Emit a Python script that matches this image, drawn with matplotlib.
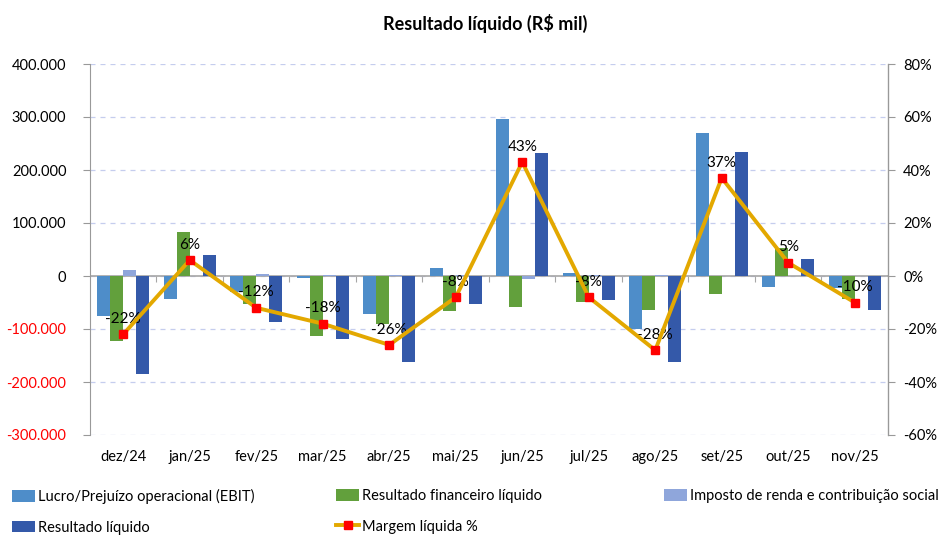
import matplotlib.pyplot as plt
import matplotlib.ticker as mticker
import numpy as np

meses = ["dez/24", "jan/25", "fev/25", "mar/25", "abr/25", "mai/25",
         "jun/25", "jul/25", "ago/25", "set/25", "out/25", "nov/25"]
ebit = [-76000, -44000, -30000, -4000, -72000, 14500,
        296000, 6000, -100500, 269000, -20000, -22000]
financeiro = [-122500, 83000, -53500, -114000, -90000, -66000,
              -58000, -48500, -64000, -34500, 53000, -42500]
imposto = [10500, 0, 3000, 2000, 2000, 1000,
           -5000, 1500, 2000, 0, 0, 0]
liquido = [-185500, 39000, -86000, -119000, -162000, -53000,
           232500, -45000, -161500, 234000, 33000, -64000]
margem = [-22, 6, -12, -18, -26, -8, 43, -8, -28, 37, 5, -10]

cores = ["#4E8DC9", "#62A03C", "#8FA6DB", "#3459A9"]
nomes = ["Lucro/Prejuízo operacional (EBIT)", "Resultado financeiro líquido",
         "Imposto de renda e contribuição social", "Resultado líquido"]

plt.rcParams["font.family"] = ["Lato", "DejaVu Sans"]

fig = plt.figure(figsize=(9.49, 5.35), dpi=100)
ax = fig.add_axes([90 / 949, 1 - 435 / 535, 798 / 949, 371 / 535])

x = np.arange(len(meses))
w = 0.195
barras = []
for i, serie in enumerate([ebit, financeiro, imposto, liquido]):
    b = ax.bar(x + (i - 1.5) * w, serie, w, color=cores[i], label=nomes[i], zorder=3)
    barras.append(b)

ax.set_xlim(-0.5, len(meses) - 0.5)
ax.set_ylim(-300000, 400000)
ax.set_yticks(np.arange(-300000, 400001, 100000))
ax.yaxis.set_major_formatter(mticker.FuncFormatter(lambda v, p: f"{v:,.0f}".replace(",", ".")))
for lab, v in zip(ax.get_yticklabels(), ax.get_yticks()):
    lab.set_color("red" if v < 0 else "black")
ax.tick_params(axis="y", labelsize=10.5, length=5, color="#999999", pad=12)
ax.set_xticks(x)
ax.set_xticklabels(meses)
ax.tick_params(axis="x", labelsize=10.5, length=0, pad=11)
ax.grid(axis="y", color="#C5CDEE", linestyle=(0, (4, 4)), linewidth=0.9, zorder=0)
ax.axhline(0, color="#A6A6A6", linewidth=1.2, zorder=2)
for s in ["top", "bottom"]:
    ax.spines[s].set_visible(False)
ax.spines["left"].set_color("#999999")

# marcas do eixo de categorias na linha do zero
sec = ax.secondary_xaxis(300000 / 700000)
sec.set_xticks(np.arange(0.5, len(meses) - 1, 1.0))
sec.set_xticklabels([])
sec.tick_params(length=4, color="#A6A6A6")
sec.spines["bottom"].set_visible(False)

ax2 = ax.twinx()
ax2.set_ylim(-60, 80)
ax2.set_yticks(np.arange(-60, 81, 20))
ax2.yaxis.set_major_formatter(mticker.FuncFormatter(lambda v, p: f"{v:.0f}%"))
ax2.tick_params(axis="y", labelsize=10.5, length=5, color="#999999", pad=6)
for s in ["top", "bottom", "left"]:
    ax2.spines[s].set_visible(False)
ax2.spines["right"].set_color("#999999")
linha, = ax2.plot(x, margem, color="#E3A800", linewidth=2.8, marker="s", markersize=5.5,
                  markerfacecolor="#FF0000", markeredgecolor="#FF0000", zorder=5,
                  label="Margem líquida %")
for xi, m in zip(x, margem):
    ax2.annotate(f"{m}%", (xi, m), xytext=(0, 6), textcoords="offset points",
                 ha="center", va="bottom", fontsize=11, color="black")

fig.text(0.511, 1 - 23 / 535, "Resultado líquido (R$ mil)", ha="center", va="center",
         fontsize=13, fontweight="bold")

leg_kw = dict(loc="upper left", frameon=False, borderpad=0, borderaxespad=0,
              handletextpad=0.15, handlelength=1.6, handleheight=0.8, labelspacing=1.15,
              prop={"family": ["Lato", "DejaVu Sans"], "size": 10.5})
grupos = [([barras[0], barras[3]], 12), ([barras[1], linha], 336), ([barras[2]], 664)]
for hs, px in grupos:
    fig.legend(handles=hs, labels=[h.get_label() for h in hs],
               bbox_to_anchor=(px / 949, 1 - 489 / 535), **leg_kw)

fig.savefig("out.png", dpi=100)
